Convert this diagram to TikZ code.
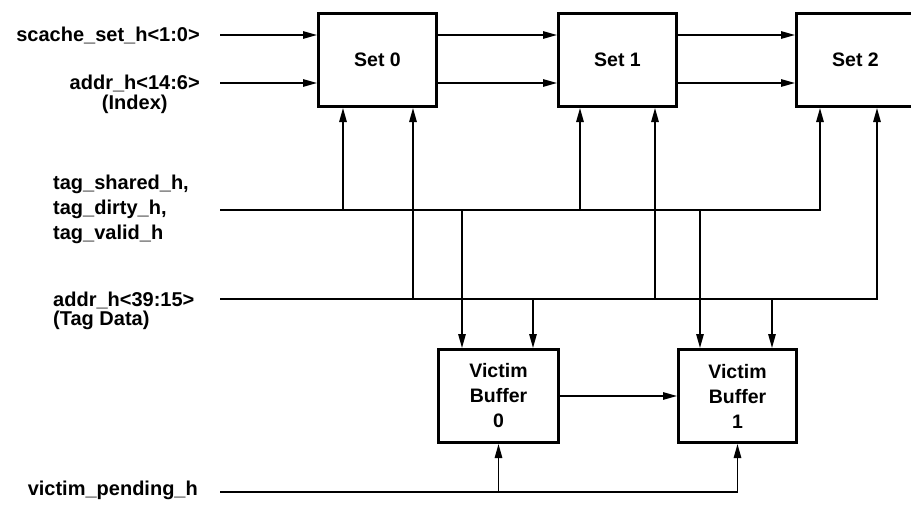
\documentclass[tikz,border=0pt]{standalone}
\usepackage{fontspec}
\setmainfont{Liberation Sans}
\usepackage{tikz}
\usetikzlibrary{arrows.meta,positioning}
\tikzset{
  cbox/.style={draw=black, line width=3pt, align=center, font=\bfseries\fontsize{19.5}{25}\selectfont, minimum width=118pt, minimum height=93pt, inner sep=0pt},
  sig/.style={font=\bfseries\fontsize{20}{25}\selectfont, inner sep=0pt, align=left},
  farr/.style={-{Triangle[length=14pt,width=7.5pt]}, line width=1.4pt}
}
\begin{document}
\begin{tikzpicture}[x=1pt,y=-1pt]
\useasboundingbox (0,0) rectangle (911,506);
% cache sets
\node[cbox] (set0) at (377.5,60) {Set 0};
\node[cbox, right=119pt of set0] (set1) {Set 1};
\node[cbox, right=117pt of set1] (set2) {Set 2};
% victim buffers
\node[cbox, minimum width=120pt] (vb0) at (498.5,396) {Victim\\Buffer\\0};
\node[cbox] (vb1) at (737.5,396) {Victim\\Buffer\\1};
% signal names
\node[sig, anchor=east] (lset) at (200,35) {scache\_set\_h<1:0>};
\node[sig, anchor=east] (lidx) at (200,83) {addr\_h<14:6>};
\node[sig, below=3pt of lidx] (lidx2) {(Index)};
\node[sig, anchor=west] (ltag) at (53,209) {tag\_shared\_h,\\tag\_dirty\_h,\\tag\_valid\_h};
\node[sig, anchor=west] (ltd) at (53,300) {addr\_h<39:15>};
\node[sig, below right=2pt and 0pt of ltd.south west] (ltd2) {(Tag Data)};
\node[sig, anchor=east] (lvp) at (198,490) {victim\_pending\_h};
\coordinate (tagin) at (220,210);
\coordinate (tdin) at (220,299);
\coordinate (vpin) at (220,492);
% index and set select
\draw[farr] ([xshift=20pt]lset.east) -- (lset -| set0.west);
\draw[farr] (lset -| set0.east) -- (lset -| set1.west);
\draw[farr] (lset -| set1.east) -- (lset -| set2.west);
\draw[farr] ([xshift=20pt]lidx.east) -- (lidx -| set0.west);
\draw[farr] (lidx -| set0.east) -- (lidx -| set1.west);
\draw[farr] (lidx -| set1.east) -- (lidx -| set2.west);
% tag status and tag data
\draw[farr] (tagin) -| ([xshift=-35.5pt]set2.south);
\draw[farr] (tdin) -| ([xshift=21.5pt]set2.south);
\draw[farr] ([xshift=-34.5pt]set0.south |- tagin) -- ([xshift=-34.5pt]set0.south);
\draw[farr] ([xshift=35.5pt]set0.south |- tdin) -- ([xshift=35.5pt]set0.south);
\draw[farr] ([xshift=-37.5pt]set1.south |- tagin) -- ([xshift=-37.5pt]set1.south);
\draw[farr] ([xshift=37.5pt]set1.south |- tdin) -- ([xshift=37.5pt]set1.south);
\draw[farr] ([xshift=-36.5pt]vb0.north |- tagin) -- ([xshift=-36.5pt]vb0.north);
\draw[farr] ([xshift=34.5pt]vb0.north |- tdin) -- ([xshift=34.5pt]vb0.north);
\draw[farr] ([xshift=-37.5pt]vb1.north |- tagin) -- ([xshift=-37.5pt]vb1.north);
\draw[farr] ([xshift=34.5pt]vb1.north |- tdin) -- ([xshift=34.5pt]vb1.north);
% victim path
\draw[farr] (vb0) -- (vb1);
\draw[farr] (vb0.south |- vpin) -- (vb0.south);
\draw[farr] (vpin) -| (vb1.south);
\end{tikzpicture}
\end{document}
